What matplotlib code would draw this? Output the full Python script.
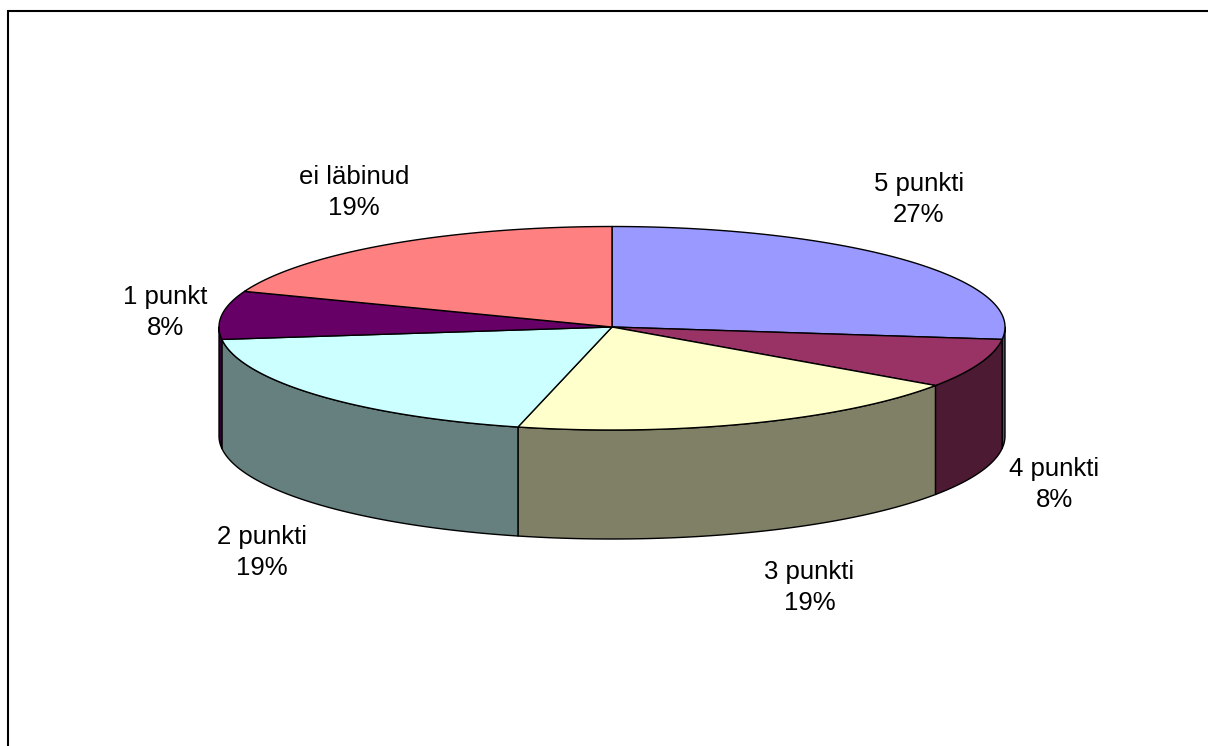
import numpy as np
import matplotlib
matplotlib.use("Agg")
import matplotlib.pyplot as plt

labels = ["5 punkti", "4 punkti", "3 punkti", "2 punkti", "1 punkt", "ei läbinud"]
values = [7, 2, 5, 5, 2, 5]
top_colors = ["#9999FF", "#993366", "#FFFFCC", "#CCFFFF", "#660066", "#FF8080"]
side_colors = ["#4C4C80", "#4D1A33", "#808066", "#668080", "#330033", "#804040"]
label_xy = [(919, 199.5), (1054.5, 484.5), (809.5, 587.5), (262, 552.5), (165, 312.5), (354, 192.5)]

W, H = 1208, 746
CX, CY, RX, RY_BACK, RY_FRONT, DEPTH = 612, 327, 393, 100.5, 103, 109
LW = 1.0

plt.rcParams["font.family"] = ["Liberation Sans", "DejaVu Sans"]
fig = plt.figure(figsize=(W / 100, H / 100), dpi=100, facecolor="white")
ax = fig.add_axes([0, 0, 1, 1])
ax.set_xlim(0, W)
ax.set_ylim(H, 0)
ax.axis("off")

# chart frame: only the left and top edges fall inside the image
ax.plot([8, 8, W + 5], [H + 5, 11, 11], color="black", lw=1.5, solid_joinstyle="miter", zorder=1)


def rim(t0, t1, dy=0.0):
    t = np.radians(np.linspace(t0, t1, max(int(abs(t1 - t0)) * 4, 2)))
    c = np.cos(t)
    return CX + RX * np.sin(t), CY - np.where(c > 0, RY_BACK, RY_FRONT) * c + dy


edges = 360 * np.cumsum([0] + values) / sum(values)

# outer wall: only the part of each slice facing the viewer
for i in range(len(values)):
    a, b = max(edges[i], 90), min(edges[i + 1], 270)
    if a >= b:
        continue
    x0, y0 = rim(a, b)
    x1, y1 = rim(b, a, DEPTH)
    ax.fill(np.r_[x0, x1], np.r_[y0, y1], facecolor=side_colors[i],
            edgecolor="black", lw=LW, joinstyle="round", zorder=2)

# top face
for i in range(len(values)):
    x0, y0 = rim(edges[i], edges[i + 1])
    ax.fill(np.r_[CX, x0], np.r_[CY, y0], facecolor=top_colors[i],
            edgecolor="black", lw=LW, joinstyle="round", zorder=3)

total = sum(values)
for name, v, (x, y) in zip(labels, values, label_xy):
    ax.text(x, y, f"{name}\n{round(100 * v / total)}%", ha="center", va="center",
            fontsize=18.5, color="black", linespacing=1.32, zorder=4)

fig.savefig("out.png", dpi=100, facecolor="white")
